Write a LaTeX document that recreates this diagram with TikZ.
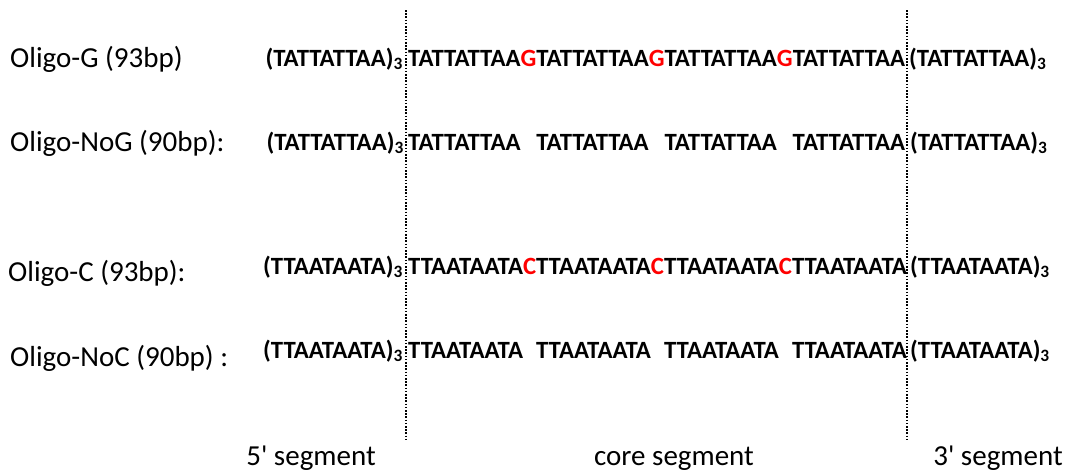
\documentclass[tikz,border=0pt]{standalone}
\usepackage{fontspec}
\setmainfont{Carlito}
\newfontfamily\segfont{Carlito}
\definecolor{seqred}{RGB}{255,0,0}
\newcommand{\rG}{\textcolor{seqred}{G}}
\newcommand{\rC}{\textcolor{seqred}{C}}
\begin{document}
\begin{tikzpicture}[x=1pt,y=-1pt,
  lbl/.style={font=\fontsize{29}{33}\selectfont, inner sep=0pt, anchor=base west},
  seq/.style={font=\bfseries\fontsize{24.8}{28}\selectfont, inner sep=0pt},
  seg/.style={font=\segfont\fontsize{29}{33}\selectfont, inner sep=0pt, anchor=base},
  divider/.style={line width=1.7pt, dash pattern=on 1.6pt off 1.6pt}]
\useasboundingbox (0,0) rectangle (1069,474);

% dividers
\coordinate (d1top) at (406,10);
\coordinate (d1bot) at (406,440);
\coordinate (d2top) at (907,10);
\coordinate (d2bot) at (907,440);
\draw[divider] (d1top) -- (d1bot);
\draw[divider] (d2top) -- (d2bot);

% row 1
\node[lbl] (l1) at (10,67) {Oligo-G (93bp)};
\node[seq, anchor=base east] (a1) at (403,66) {(TATTATTAA)\textsubscript{3}};
\node[seq, anchor=base west] (b1) at (408,66) {TATTATTAA\rG TATTATTAA\rG TATTATTAA\rG TATTATTAA};
\node[seq, anchor=base west] (c1) at (909,66) {(TATTATTAA)\textsubscript{3}};

% row 2
\node[lbl] (l2) at (10,151) {Oligo-NoG (90bp):};
\node[seq, anchor=base east] (a2) at (404,150) {(TATTATTAA)\textsubscript{3}};
\node[seq, anchor=base west] (b2) at (408,150) {TATTATTAA\phantom{G}TATTATTAA\phantom{G}TATTATTAA\phantom{G}TATTATTAA};
\node[seq, anchor=base west] (c2) at (910,150) {(TATTATTAA)\textsubscript{3}};

% row 3
\node[lbl] (l3) at (8,281) {Oligo-C (93bp):};
\node[seq, anchor=base east] (a3) at (403,274) {(TTAATAATA)\textsubscript{3}};
\node[seq, anchor=base west] (b3) at (408,274) {TTAATAATA\rC TTAATAATA\rC TTAATAATA\rC TTAATAATA};
\node[seq, anchor=base west] (c3) at (910,274) {(TTAATAATA)\textsubscript{3}};

% row 4
\node[lbl] (l4) at (10,366) {Oligo-NoC (90bp) :};
\node[seq, anchor=base east] (a4) at (403,358) {(TTAATAATA)\textsubscript{3}};
\node[seq, anchor=base west] (b4) at (408,358) {TTAATAATA\phantom{C}TTAATAATA\phantom{C}TTAATAATA\phantom{C}TTAATAATA};
\node[seq, anchor=base west] (c4) at (910,358) {(TTAATAATA)\textsubscript{3}};

% segment labels
\node[seg] (s5) at (311,465) {5' segment};
\node[seg] (sc) at (674,465) {core segment};
\node[seg] (s3) at (998,465) {3' segment};
\end{tikzpicture}
\end{document}
